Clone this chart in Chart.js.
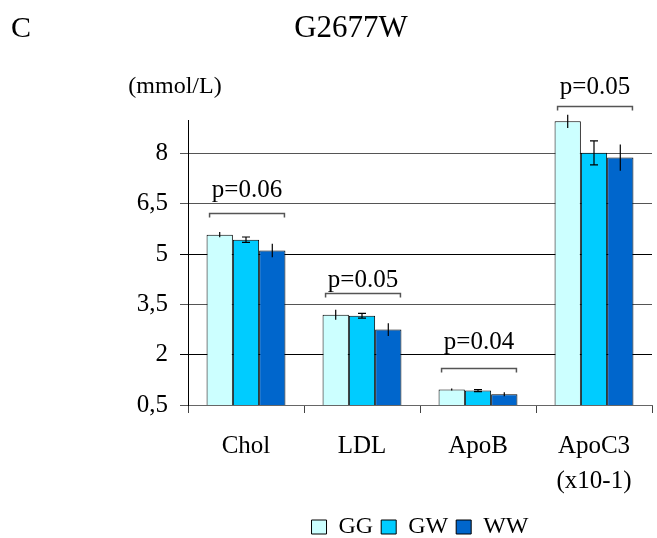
<!DOCTYPE html>
<html><head><meta charset="utf-8">
<script src="https://cdn.jsdelivr.net/npm/chart.js@4.4.0/dist/chart.umd.min.js"></script>
<style>html,body{margin:0;padding:0;background:#fff}#wrap{width:657px;height:538px;overflow:hidden}</style>
</head><body><div id="wrap"><canvas id="c" width="657" height="538"></canvas></div>
<script>
const categories = ['Chol', 'LDL', 'ApoB', ['ApoC3', '(x10-1)']];
const seriesNames = ['GG', 'GW', 'WW'];
const ggValues = [5.58, 3.19, 0.96, 8.96];
const gwValues = [5.43, 3.16, 0.93, 8.02];
const wwValues = [5.11, 2.75, 0.82, 7.88];
const ggErrors = [0.08, 0.15, 0.03, 0.2];
const gwErrors = [0.08, 0.07, 0.03, 0.36];
const wwErrors = [0.2, 0.19, 0.06, 0.39];
const yTickValues = [0.5, 2, 3.5, 5, 6.5, 8];
const yTickLabels = ['0,5', '2', '3,5', '5', '6,5', '8'];
const pLabels = ['p=0.06', 'p=0.05', 'p=0.04', 'p=0.05'];
const pBracketLevels = [6.22, 3.83, 1.6, 9.43];
const pLabelLevels = [6.9, 4.22, 2.36, 9.97];
const titleText = 'G2677W';
const panelLetter = 'C';
const unitText = '(mmol/L)';

const SERIF = "'Liberation Serif', 'Times New Roman', serif";
Chart.defaults.font.family = SERIF;
Chart.defaults.color = '#000';

const colors = ['#ccffff', '#00ccff', '#0066cc'];
const values = [ggValues, gwValues, wwValues];
const errors = [ggErrors, gwErrors, wwErrors];
const caps = [0, 4, 0];

const extrasPlugin = {
  id: 'extras',
  afterDatasetsDraw(chart) {
    const ctx = chart.ctx;
    const y = chart.scales.y;
    ctx.save();
    ctx.strokeStyle = '#000';
    ctx.lineWidth = 1.2;
    values.forEach((vals, i) => {
      const meta = chart.getDatasetMeta(i);
      meta.data.forEach((bar, j) => {
        const yHi = y.getPixelForValue(vals[j] + errors[i][j]);
        const yLo = y.getPixelForValue(vals[j] - errors[i][j]);
        ctx.beginPath();
        ctx.moveTo(bar.x, yHi); ctx.lineTo(bar.x, yLo);
        if (caps[i]) {
          ctx.moveTo(bar.x - caps[i], yHi); ctx.lineTo(bar.x + caps[i], yHi);
          ctx.moveTo(bar.x - caps[i], yLo); ctx.lineTo(bar.x + caps[i], yLo);
        }
        ctx.stroke();
      });
    });
    const m0 = chart.getDatasetMeta(0), m2 = chart.getDatasetMeta(2);
    ctx.strokeStyle = '#555';
    ctx.lineWidth = 1.5;
    ctx.fillStyle = '#000';
    ctx.font = '25px ' + SERIF;
    ctx.textAlign = 'center';
    ctx.textBaseline = 'middle';
    pLabels.forEach((lab, j) => {
      const b0 = m0.data[j], b2 = m2.data[j];
      const left = b0.x - b0.width / 2 + 3;
      const right = b2.x + b2.width / 2 - 1;
      const by = Math.round(y.getPixelForValue(pBracketLevels[j])) + 0.5;
      ctx.beginPath();
      ctx.moveTo(left, by + 4); ctx.lineTo(left, by); ctx.lineTo(right, by); ctx.lineTo(right, by + 4);
      ctx.stroke();
      ctx.fillText(lab, (left + right) / 2, y.getPixelForValue(pLabelLevels[j]));
    });
    ctx.restore();
  },
  afterDraw(chart) {
    const ctx = chart.ctx;
    ctx.save();
    ctx.fillStyle = '#000';
    ctx.textBaseline = 'middle';
    ctx.textAlign = 'left';
    ctx.font = '30px ' + SERIF;
    ctx.fillText(panelLetter, 11, 29);
    ctx.textAlign = 'center';
    ctx.font = '31px ' + SERIF;
    ctx.fillText(titleText, 351, 29);
    ctx.font = '24px ' + SERIF;
    ctx.fillText(unitText, 175, 87);
    ctx.restore();
  }
};

new Chart(document.getElementById('c'), {
  type: 'bar',
  data: {
    labels: categories,
    datasets: seriesNames.map((name, i) => ({
      label: name,
      data: values[i],
      backgroundColor: colors[i],
      borderColor: '#000',
      borderWidth: 1,
      borderSkipped: false,
      categoryPercentage: 0.68,
      barPercentage: 1.0
    }))
  },
  options: {
    responsive: false,
    animation: false,
    layout: { padding: { top: 120, right: 5, left: 0, bottom: -11 } },
    plugins: {
      title: { display: false },
      tooltip: { enabled: false },
      legend: {
        display: true,
        position: 'bottom',
        fullSize: false,
        labels: {
          boxWidth: 15, boxHeight: 14, padding: 8,
          color: '#000',
          font: { size: 24, family: SERIF, lineHeight: 1.0 }
        }
      }
    },
    scales: {
      x: {
        grid: { offset: true, drawOnChartArea: false, drawTicks: true, tickLength: 8, color: '#444' },
        border: { display: true, color: '#666' },
        ticks: { color: '#000', padding: 16, maxRotation: 0, autoSkip: false, font: { size: 25, lineHeight: 1.4 } },
        afterFit(scale) { scale.height = 102; }
      },
      y: {
        min: 0.5, max: 9,
        afterBuildTicks(scale) { scale.ticks = yTickValues.map(v => ({ value: v })); },
        afterFit(scale) { scale.width = 188; },
        grid: {
          tickLength: 8,
          color: (c) => { const v = c.tick && c.tick.value; return (v === 5 || v === 2) ? '#000' : '#555'; },
          lineWidth: 1
        },
        border: { display: true, color: '#000', width: 1 },
        ticks: {
          color: '#000', padding: 12, font: { size: 25 },
          callback: (v) => { const k = yTickValues.indexOf(v); return k >= 0 ? yTickLabels[k] : ''; }
        }
      }
    }
  },
  plugins: [extrasPlugin]
});
</script></body></html>
